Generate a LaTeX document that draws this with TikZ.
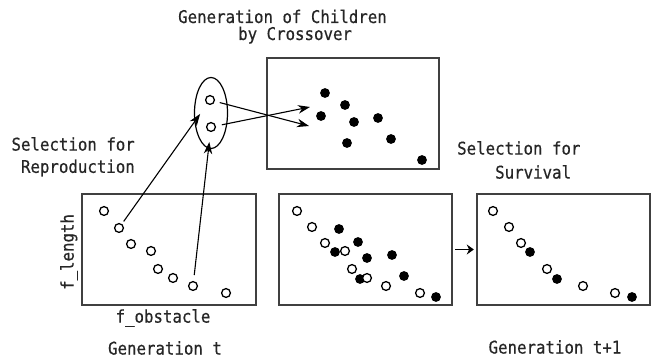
\documentclass[tikz,border=0pt]{standalone}
\usepackage{fontspec}
\newfontfamily\gfont[FakeStretch=0.9,FakeBold=0.5]{DejaVu Sans Mono}
\usetikzlibrary{arrows.meta,shapes.geometric}
\begin{document}
\begin{tikzpicture}[x=1pt,y=-1pt,
  lbl/.style={font=\gfont\fontsize{17.5}{20}\selectfont, inner sep=0pt, text=black!85},
  panel/.style={draw=black!75, line width=1.3pt},
  od/.style={circle, draw=black, line width=1.3pt, fill=white, minimum size=8.8pt, inner sep=0pt},
  fd/.style={circle, fill=black, minimum size=9.8pt, inner sep=0pt},
  conn/.style={line width=1.1pt, -{Stealth[length=12pt,width=8.5pt]}},
]
\path[use as bounding box, fill=white] (0,0) rectangle (654,358);

% panels
\draw[panel] (82,194) rectangle (256,305);
\node[inner sep=0pt] (box1) at (169,249.5) {};
\draw[panel] (279,194) rectangle (452,305);
\node[minimum width=173pt, minimum height=111pt, inner sep=0pt] (box2) at (365.5,249.5) {};
\draw[panel] (477,194) rectangle (650,305);
\node[minimum width=173pt, minimum height=111pt, inner sep=0pt] (box3) at (563.5,249.5) {};
\draw[panel] (267,58) rectangle (439,169);
\node[inner sep=0pt] (boxc) at (353,113.5) {};

% ellipse
\node[ellipse, draw=black, line width=1.2pt, minimum width=33pt, minimum height=71pt, inner sep=0pt] (ell) at (211,113) {};
\node[od] (e1) at (210,100) {};
\node[od] (e2) at (211,127) {};

% box1 points
\node[od] (a1) at (104,211) {};
\node[od] (a2) at (119,228) {};
\node[od] (a3) at (131,244) {};
\node[od] (a4) at (151,251) {};
\node[od] (a5) at (158,269) {};
\node[od] (a6) at (173,278) {};
\node[od] (a7) at (193,286) {};
\node[od] (a8) at (226,293) {};

% box2 points
\node[od] (p1) at (297,211) {};
\node[od] (p2) at (312,227) {};
\node[od] (p3) at (325,243) {};
\node[od] (p4) at (345,251) {};
\node[od] (p5) at (352,269) {};
\node[od] (p7) at (386,286) {};
\node[od] (p8) at (420,293) {};
\node[fd] (q1) at (339,229) {};
\node[fd] (q2) at (358,242) {};
\node[fd] (q3) at (335,252) {};
\node[fd] (q4) at (367,258) {};
\node[fd] (q5) at (392,255) {};
\node[fd] (q6) at (360,279) {};
\node[od] (p6) at (367,278) {};
\node[fd] (q7) at (404,276) {};
\node[fd] (q8) at (436,297) {};

% box3 points
\node[od] (r1) at (493,211) {};
\node[od] (r2) at (509,227) {};
\node[od] (r3) at (521,243) {};
\node[od] (r4) at (547,269) {};
\node[od] (r5) at (583,286) {};
\node[od] (r6) at (615,293) {};
\node[fd] (s1) at (530,252) {};
\node[fd] (s2) at (557,279) {};
\node[fd] (s3) at (632,297) {};

% crossover box points
\node[fd] (c1) at (325,93) {};
\node[fd] (c2) at (345,105) {};
\node[fd] (c3) at (321,116) {};
\node[fd] (c4) at (354,122) {};
\node[fd] (c5) at (378,118) {};
\node[fd] (c6) at (347,143) {};
\node[fd] (c7) at (391,139) {};
\node[fd] (c8) at (422,160) {};

% connectors
\draw[conn, shorten <=3pt, shorten >=12pt] (a2) -- (e1);
\draw[conn, shorten <=6pt, shorten >=10pt] (a7) -- (e2);
\coordinate (t1) at (309,126);
\coordinate (t2) at (310,107);
\draw[conn, shorten <=5pt] (e1) -- (t1);
\draw[conn, shorten <=6pt] (e2) -- (t2);
\draw[line width=1.1pt, -{Stealth[length=7pt,width=10pt]}, shorten <=3pt, shorten >=3pt] (box2.east) -- (box3.west);

% labels
\node[lbl, anchor=base west, text depth=0pt] (tt1) at (178,23) {Generation of Children};
\node[lbl, anchor=base west, text height=10pt] (tt2) at (238,40) {by Crossover};
\node[lbl, anchor=east] (sr1) at (135,144) {Selection for};
\node[lbl, anchor=east] (sr2) at (135,168) {Reproduction};
\node[lbl, anchor=west] (ss1) at (457,148) {Selection for};
\node[lbl, anchor=west] (ss2) at (495,172) {Survival};
\node[lbl, rotate=90] (fl) at (69,252) {f\_length};
\node[lbl] (fo) at (163,318) {f\_obstacle};
\node[lbl] (g1) at (165,348) {Generation t};
\node[lbl] (g2) at (555,347) {Generation t+1};
\end{tikzpicture}
\end{document}
